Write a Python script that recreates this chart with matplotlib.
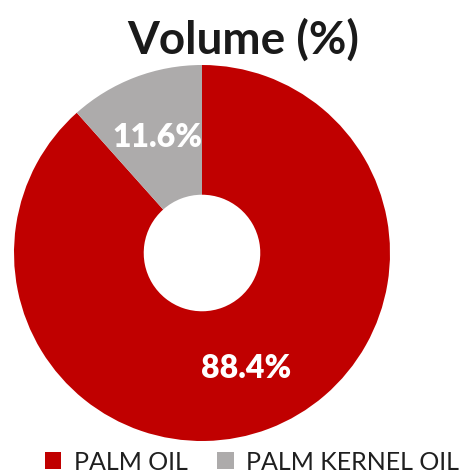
import matplotlib
matplotlib.use('Agg')
import matplotlib.pyplot as plt

plt.rcParams['font.family'] = ['Lato', 'DejaVu Sans']

labels = ['PALM OIL', 'PALM KERNEL OIL']
volume = [88.4, 11.6]
colors = ['#C00000', '#ADABAB']

fig = plt.figure(figsize=(4.66, 4.73), dpi=100)
fig.set_facecolor('white')

# donut sits in a square box, radius 1 ~ 188 px
ax = fig.add_axes([14 / 466, 32 / 473, 376 / 466, 376 / 473])
wedges, texts, autotexts = ax.pie(volume, colors=colors, startangle=90, counterclock=False,
                                  radius=1.0, autopct='%.1f%%', pctdistance=0.66,
                                  wedgeprops=dict(width=0.69, edgecolor='none'))
for t in autotexts:
    t.set_color('white')
    t.set_fontsize(23)
    t.set_fontweight('heavy')
ax.set_xlim(-1, 1)
ax.set_ylim(-1, 1)
ax.set_aspect('equal')
ax.axis('off')

fig.text(243 / 466, 1 - 40 / 473, 'Volume (%)', ha='center', va='center',
         fontsize=33, fontweight='bold', color='#1a1a1a')

fig.legend(wedges, labels, loc='center', bbox_to_anchor=(252 / 466, 1 - 462 / 473), ncol=2,
           frameon=False, fontsize=18, handlelength=0.65, handleheight=0.65,
           handletextpad=0.5, columnspacing=1.2, labelcolor='#1f1f1f')

fig.savefig('out.png', dpi=100)
